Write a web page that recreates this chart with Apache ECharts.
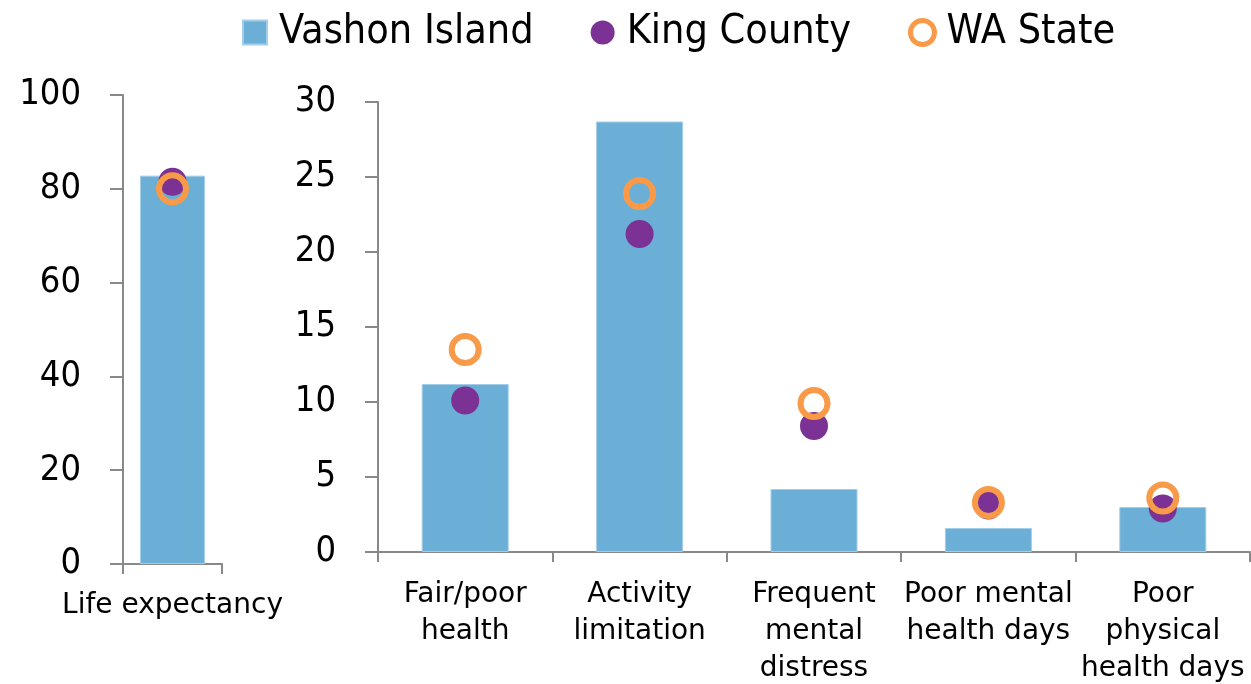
<!DOCTYPE html>
<html>
<head>
<meta charset="utf-8">
<script src="https://cdn.jsdelivr.net/npm/echarts@6/dist/echarts.min.js"></script>
<style>
html,body{margin:0;padding:0;background:#fff;}
#main{width:1251px;height:684px;}
</style>
</head>
<body>
<div id="main"></div>
<script>
// categories
var lifeCats = ['Life expectancy'];
var measureCats = ['Fair/poor\nhealth', 'Activity\nlimitation', 'Frequent\nmental\ndistress', 'Poor mental\nhealth days', 'Poor\nphysical\nhealth days'];
// values
var vashonLife = [82.8];
var kingLife = [81.5];
var waLife = [80.0];
var vashon = [11.2, 28.7, 4.2, 1.6, 3.0];
var king = [10.1, 21.2, 8.4, 3.1, 2.9];
var wa = [13.5, 23.9, 9.9, 3.3, 3.6];

var FONT_C = 'DejaVu Sans Condensed, DejaVu Sans, sans-serif';
var FONT = 'DejaVu Sans, sans-serif';
var axisGray = '#898989';
var barBlue = '#6BAED6';
var purple = '#7B3294';
var orange = '#F99A48';

var myChart = echarts.init(document.getElementById('main'));

function catAxis(idx, cats, margin){
	return {
		type:'category', gridIndex:idx, data:cats,
		axisLine:{lineStyle:{color:axisGray, width:2}},
		axisTick:{show:true, length:10, alignWithLabel:false, lineStyle:{color:axisGray, width:2}},
		axisLabel:{color:'#000', fontFamily:FONT, fontSize:28, lineHeight:37, margin:margin, interval:0}
	};
}
function valAxis(idx, max, step){
	return {
		type:'value', gridIndex:idx, min:0, max:max, interval:step,
		axisLine:{show:true, lineStyle:{color:axisGray, width:2}},
		axisTick:{show:true, length:13, lineStyle:{color:axisGray, width:2}},
		splitLine:{show:false},
		axisLabel:{color:'#000', fontFamily:FONT_C, fontSize:36, margin:42}
	};
}

var kingStyle = {color:purple, opacity:1};
var waStyle = {color:'transparent', borderColor:orange, borderWidth:6, opacity:1};

var options = {
	animation:false,
	legend:{
		left:237, top:7, itemWidth:24, itemHeight:24, itemGap:57,
		textStyle:{color:'#000', fontFamily:FONT_C, fontSize:41, padding:[0,0,0,7]},
		data:[
			{name:'Vashon Island', icon:'rect'},
			{name:'King County', icon:'circle'},
			{name:'WA State', icon:'circle', itemStyle:{color:'transparent', borderColor:orange, borderWidth:5, opacity:1}}
		]
	},
	grid:[
		{left:123, top:95, width:99, height:469, outerBoundsMode:'none'},
		{left:378, top:102, width:872, height:450, outerBoundsMode:'none'}
	],
	xAxis:[catAxis(0, lifeCats, 23), catAxis(1, measureCats, 24)],
	yAxis:[valAxis(0, 100, 20), valAxis(1, 30, 5)],
	series:[
		{name:'Vashon Island', type:'bar', xAxisIndex:0, yAxisIndex:0, barWidth:65, data:vashonLife,
			itemStyle:{color:barBlue, borderColor:'#A3CDE8', borderWidth:1}},
		{name:'Vashon Island', type:'bar', xAxisIndex:1, yAxisIndex:1, barWidth:87, data:vashon,
			itemStyle:{color:barBlue, borderColor:'#A3CDE8', borderWidth:1}},
		{name:'King County', type:'scatter', xAxisIndex:0, yAxisIndex:0, symbolSize:28, data:kingLife, itemStyle:kingStyle, z:3},
		{name:'King County', type:'scatter', xAxisIndex:1, yAxisIndex:1, symbolSize:28, data:king, itemStyle:kingStyle, z:3},
		{name:'WA State', type:'scatter', xAxisIndex:0, yAxisIndex:0, symbolSize:27, data:waLife, itemStyle:waStyle, z:4},
		{name:'WA State', type:'scatter', xAxisIndex:1, yAxisIndex:1, symbolSize:27, data:wa, itemStyle:waStyle, z:4}
	]
};
myChart.setOption(options);
</script>
</body>
</html>
